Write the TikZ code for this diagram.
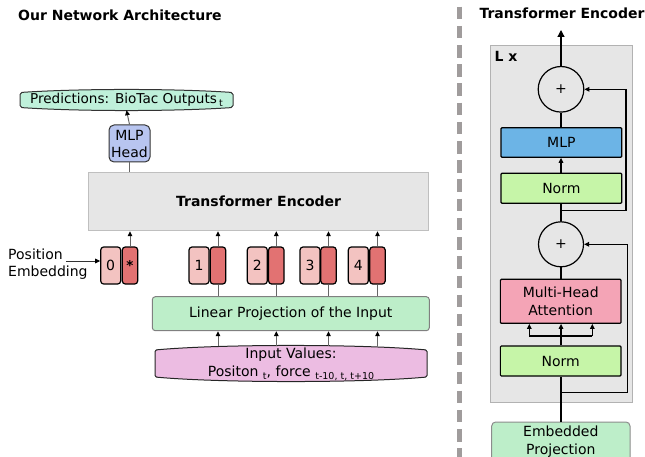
\documentclass[tikz,border=0pt]{standalone}
\usepackage{fontspec}
\setmainfont{DejaVu Sans}
\usetikzlibrary{arrows.meta}
\definecolor{tokl}{HTML}{F3C3C1}
\definecolor{tokd}{HTML}{E27272}
\definecolor{headfill}{HTML}{B8C5F0}
\definecolor{predfill}{HTML}{BFF0DA}
\definecolor{encfill}{HTML}{E6E6E6}
\definecolor{linfill}{HTML}{BDEEC9}
\definecolor{inpfill}{HTML}{ECBCE2}
\definecolor{mlpfill}{HTML}{6CB4E6}
\definecolor{normfill}{HTML}{C6F5A8}
\definecolor{mhafill}{HTML}{F4A4B6}
\definecolor{dashgray}{HTML}{A09C9C}
\newcommand{\mysub}[1]{\raisebox{-0.4ex}{\fontsize{9.5}{10}\selectfont #1}}
\tikzset{
  arr/.style={-{Triangle[length=5pt,width=4.6pt,color=black]}},
  bigarr/.style={-{Triangle[length=7pt,width=7pt,color=black]}},
  conn/.style={draw=black!60, line width=1pt},
  rconn/.style={draw=black, line width=1.2pt},
  tokL/.style={draw=black, line width=1.2pt, rounded corners=3pt, fill=tokl, minimum width=20, minimum height=37, inner sep=0},
  tokD/.style={draw=black, line width=1.2pt, rounded corners=3pt, fill=tokd, minimum width=15.4, minimum height=37, inner sep=0},
  blk/.style={draw=black, line width=1.2pt, minimum width=120.7, inner sep=0, rounded corners=1pt, align=center},
  title/.style={font=\fontsize{14}{17}\selectfont\bfseries, anchor=west, inner sep=0}
}
\begin{document}
\begin{tikzpicture}[x=1pt,y=-1pt,font=\fontsize{14}{17}\selectfont]
\useasboundingbox (0,0) rectangle (645,457);

% ---------- left part ----------
\node[title] (ltitle) at (18,15) {Our Network Architecture};

% predictions shape
\draw[fill=predfill, draw=black!80, line width=1pt, rounded corners=2pt]
  (20,92.5) .. controls (80,88.5) and (173,88.5) .. (233,92.5) -- (233,107.5)
  .. controls (173,111.5) and (80,111.5) .. (20,107.5) -- cycle;
\node[inner sep=0, minimum width=213, minimum height=20, font=\fontsize{13.6}{16}\selectfont] (pred) at (126.5,100)
  {Predictions: BioTac Outputs\,\mysub{t}};

\node[draw=black!80, line width=1pt, fill=headfill, rounded corners=5pt, minimum width=41, minimum height=37, inner sep=0, align=center, font=\fontsize{14}{17}\selectfont] (head) at (129.5,143.5) {MLP\\Head};

\node[draw=black!25, line width=1pt, fill=encfill, minimum width=340.7, minimum height=58.4, inner sep=0, font=\fontsize{14}{17}\selectfont\bfseries] (enc) at (258.6,201.5) {Transformer Encoder};

\draw[conn, arr] (head.north) -- (pred.south);
\draw[conn] (head.south) -- (head.south |- enc.north);

% tokens
\node[tokL] (p0) at (110.7,265.5) {0};
\node[tokD] (e0) at (130,265.5) {\raisebox{-0.55ex}{\fontsize{13.5}{14}\selectfont\bfseries *}};
\node[tokL] (p1) at (199,265.5) {1};
\node[tokD] (e1) at (218,265.5) {};
\node[tokL] (p2) at (257.3,265.5) {2};
\node[tokD] (e2) at (276.3,265.5) {};
\node[tokL] (p3) at (310,265.5) {3};
\node[tokD] (e3) at (328.5,265.5) {};
\node[tokL] (p4) at (358.3,265.5) {4};
\node[tokD] (e4) at (377.5,265.5) {};

\foreach \e in {e0,e1,e2,e3,e4}
  \draw[conn, arr] (\e.north) -- (\e.north |- enc.south);

\node[anchor=west, align=left, inner sep=0, font=\fontsize{14}{17.3}\selectfont] (posemb) at (8,264.3) {Position\\Embedding};
\coordinate (pe) at (66,261);
\draw[conn, draw=black!80, arr] (pe) -- (p0.west |- pe);

% linear projection
\node[draw=black!50, line width=1pt, fill=linfill, rounded corners=3pt, minimum width=277, minimum height=34, inner sep=0] (lin) at (290.8,313.7) {Linear Projection of the Input};

\foreach \e in {e1,e2,e3,e4}
  \draw[conn] (\e.south) -- (\e.south |- lin.north);

% input values shape
\draw[fill=inpfill, draw=black!85, line width=1pt, rounded corners=1.5pt]
  (155,350) .. controls (220,344) and (362,344) .. (427,350) -- (427,377)
  .. controls (362,383) and (220,383) .. (155,377) -- cycle;
\node[inner sep=0, minimum width=272, minimum height=35, align=center, font=\fontsize{14}{18}\selectfont] (inp) at (291,364)
  {Input Values:\\Positon \mysub{t}, force \mysub{t-10, t, t+10}};

\foreach \e in {e1,e2,e3,e4}
  \draw[conn, arr] (\e.south |- inp.north) -- (\e.south |- lin.south);

% ---------- divider ----------
\draw[dashgray, line width=5.5pt, dash pattern=on 12.5pt off 6.7pt] (459.3,6.7) -- (459.3,457);

% ---------- right part ----------
\node[title] (rtitle) at (479.3,13) {Transformer Encoder};

\node[draw=black!30, line width=1pt, fill=encfill, minimum width=142.7, minimum height=357, inner sep=0] (lx) at (561.35,224.2) {};
\node[font=\fontsize{14}{17}\selectfont\bfseries, anchor=west, inner sep=0] (lxlabel) at (494.3,56) {L x};

\node[circle, draw=black, line width=1.2pt, minimum size=45.6, inner sep=0] (c1) at (561,89.3) {+};
\coordinate (out) at (561,30);
\draw[rconn, bigarr] (c1.north) -- (out);

\node[blk, fill=mlpfill, minimum height=29.6] (mlp) at (561.35,142.5) {MLP};
\node[blk, fill=normfill, minimum height=30] (n1) at (561.35,188.3) {Norm};
\draw[rconn, arr] (n1.north -| c1.south) -- (mlp.south -| c1.south);
\draw[rconn] (mlp.north -| c1.south) -- (c1.south);

\node[circle, draw=black, line width=1.2pt, minimum size=45, inner sep=0] (c2) at (561,244.3) {+};
\draw[rconn] (c2.north) -- (c2.north |- n1.south);

\coordinate (s1) at (561,210.7);
\coordinate (s1r) at (626,210.7);
\draw[rconn, arr] (s1) -- (s1r) -- (s1r |- c1.east) -- (c1.east);

\node[blk, fill=mhafill, minimum height=44, font=\fontsize{14}{17.5}\selectfont] (mha) at (560.7,301.3) {Multi-Head\\Attention};
\draw[rconn] (mha.north -| c2.south) -- (c2.south);

\node[blk, fill=normfill, minimum height=30] (n2) at (560.7,361) {Norm};
\draw[rconn, arr] (n2.north -| c2.south) -- (c2.south |- mha.south);
\coordinate (bl) at (529.3,336);
\coordinate (br) at (592.3,336);
\draw[rconn] (bl) -- (br);
\draw[rconn, arr] (bl) -- (bl |- mha.south);
\draw[rconn, arr] (br) -- (br |- mha.south);

\coordinate (s2) at (561,392.7);
\coordinate (s2r) at (627.3,392.7);
\draw[rconn, arr] (s2) -- (s2r) -- (s2r |- c2.east) -- (c2.east);

\node[draw=black!45, line width=1pt, fill=linfill, rounded corners=4pt, minimum width=138.3, minimum height=40, inner sep=0, align=center, font=\fontsize{14}{18}\selectfont] (emb) at (560.85,442) {Embedded\\Projection};
\draw[rconn] (emb.north -| c2.south) -- (n2.south -| c2.south);
\end{tikzpicture}
\end{document}
